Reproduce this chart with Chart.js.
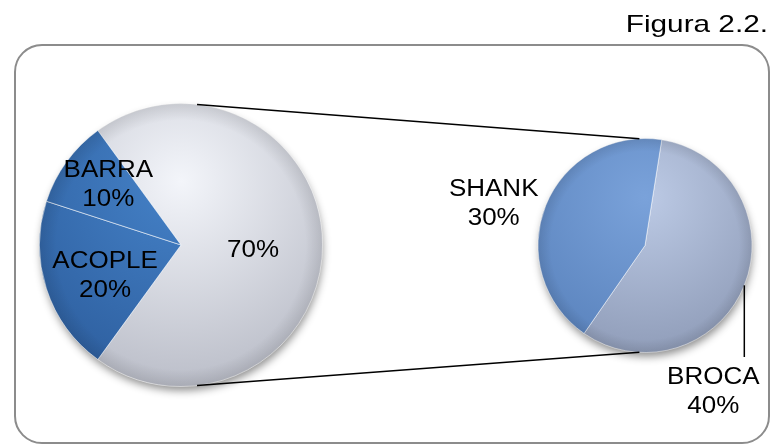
<!DOCTYPE html>
<html>
<head>
<meta charset="utf-8">
<script src="https://cdn.jsdelivr.net/npm/chart.js@4.4.1/dist/chart.umd.min.js"></script>
<style>
  body { margin: 0; background: #fff; }
  #wrap { position: relative; width: 771px; height: 445px; overflow: hidden; }
  #wrap canvas { position: absolute; left: 0; top: 0; }
  #frame {
    position: absolute; left: 14px; top: 44px; width: 756px; height: 400px;
    box-sizing: border-box; border: 2px solid #8c8c8c; border-radius: 28px;
  }
</style>
</head>
<body>
<div id="wrap">
  <div id="frame"></div>
  <canvas id="mainPie" width="771" height="445"></canvas>
  <canvas id="subPie" width="771" height="445"></canvas>
</div>
<script>
// main pie: the unnamed slice is split out into the small pie
const mainLabels = ['', 'ACOPLE', 'BARRA'];
const mainValues = [70, 20, 10];
// split of the 70% slice
const subLabels = ['BROCA', 'SHANK'];
const subValues = [40, 30];

const FONT = '23px "Liberation Sans", Arial, sans-serif';
const STRETCH = 1.13;
const LINE_H = 29;

// light / dark end of each slice's shading
const mainShades = [['#f3f5fa', '#b9bcc7'], ['#4582c8', '#2d5e9e'], ['#4582c8', '#2d5e9e']];
const subShades = [['#bccae5', '#8f9cb8'], ['#7aa2da', '#5a83bd']];

function pieGeom(chart) {
  const arc = chart.getDatasetMeta(0).data[0];
  return { x: arc.x, y: arc.y, r: arc.outerRadius };
}

function shade(pairs) {
  return (c) => {
    const p = pairs[c.dataIndex];
    const a = c.chart.chartArea;
    if (!a) return p[0];
    const cx = (a.left + a.right) / 2, cy = (a.top + a.bottom) / 2;
    const r = Math.min(a.width, a.height) / 2;
    const g = c.chart.ctx.createRadialGradient(cx, cy - r * 0.45, 0, cx, cy - r * 0.45, r * 1.5);
    g.addColorStop(0, p[0]);
    g.addColorStop(1, p[1]);
    return g;
  };
}

function drawBlock(ctx, lines, x, y) {
  const fs = 23;
  lines.forEach((t, i) => {
    const cy = y + (i - (lines.length - 1) / 2) * LINE_H;
    ctx.save();
    ctx.translate(x, cy + fs * 0.358);
    ctx.scale(STRETCH, 1);
    ctx.fillText(t, 0, 0);
    ctx.restore();
  });
}

// soft drop shadow under the disc and a darker rim on top of the slices
const bevel = {
  id: 'bevel',
  beforeDatasetsDraw(chart) {
    const { x, y, r } = pieGeom(chart);
    const ctx = chart.ctx;
    ctx.save();
    ctx.shadowColor = 'rgba(0,0,0,0.45)';
    ctx.shadowBlur = 9;
    ctx.shadowOffsetY = 5;
    ctx.shadowOffsetX = 1;
    ctx.fillStyle = '#c8cad2';
    ctx.beginPath();
    ctx.arc(x, y, r - 1, 0, Math.PI * 2);
    ctx.fill();
    ctx.restore();
  },
  afterDatasetsDraw(chart) {
    const { x, y, r } = pieGeom(chart);
    const ctx = chart.ctx;
    const g = ctx.createRadialGradient(x, y, r * 0.88, x, y, r);
    g.addColorStop(0, 'rgba(0,0,0,0)');
    g.addColorStop(1, 'rgba(0,0,0,0.1)');
    ctx.save();
    ctx.fillStyle = g;
    ctx.beginPath();
    ctx.arc(x, y, r, 0, Math.PI * 2);
    ctx.fill();
    ctx.restore();
  }
};

// name + percentage for every slice, optionally with a leader line
const sliceText = {
  id: 'sliceText',
  afterDraw(chart, args, opts) {
    const ctx = chart.ctx;
    const meta = chart.getDatasetMeta(0);
    const values = chart.data.datasets[0].data;
    const names = chart.data.labels;
    ctx.save();
    ctx.font = FONT;
    ctx.fillStyle = '#000';
    ctx.textAlign = 'center';
    ctx.textBaseline = 'alphabetic';
    meta.data.forEach((arc, i) => {
      const p = opts.place[i];
      const mid = (arc.startAngle + arc.endAngle) / 2 + p.shift * Math.PI / 180;
      const lines = names[i] ? [names[i], values[i] + '%'] : [values[i] + '%'];
      let x, y;
      if (p.leader) {
        const ex = arc.x + Math.cos(mid) * arc.outerRadius;
        const ey = arc.y + Math.sin(mid) * arc.outerRadius;
        const ly = ey + p.leader * arc.outerRadius;
        ctx.save();
        ctx.strokeStyle = '#000';
        ctx.lineWidth = 1.5;
        ctx.beginPath();
        ctx.moveTo(ex, ey);
        ctx.lineTo(ex, ly);
        ctx.stroke();
        ctx.restore();
        x = ex + p.dx;
        y = ly + p.dy;
      } else {
        x = arc.x + Math.cos(mid) * p.dist * arc.outerRadius;
        y = arc.y + Math.sin(mid) * p.dist * arc.outerRadius;
      }
      drawBlock(ctx, lines, x, y);
    });
    if (opts.caption) {
      ctx.save();
      ctx.font = '24px "Liberation Sans", Arial, sans-serif';
      ctx.textAlign = 'right';
      ctx.translate(768, 32);
      ctx.scale(1.24, 1);
      ctx.fillText(opts.caption, 0, 0);
      ctx.restore();
    }
    ctx.restore();
  }
};

// lines joining the big pie to the small one
const connectors = {
  id: 'connectors',
  afterDraw(chart, args, opts) {
    const a = pieGeom(opts.from());
    const b = pieGeom(chart);
    const pt = (g, deg) => {
      const t = (deg - 90) * Math.PI / 180;
      return [g.x + Math.cos(t) * g.r, g.y + Math.sin(t) * g.r];
    };
    const ctx = chart.ctx;
    ctx.save();
    ctx.strokeStyle = '#000';
    ctx.lineWidth = 1.5;
    [[6.5, -3], [173.5, 183]].forEach(([da, db]) => {
      const p = pt(a, da), q = pt(b, db);
      ctx.beginPath();
      ctx.moveTo(p[0], p[1]);
      ctx.lineTo(q[0], q[1]);
      ctx.stroke();
    });
    ctx.restore();
  }
};

const mainChart = new Chart(document.getElementById('mainPie'), {
  type: 'pie',
  data: {
    labels: mainLabels,
    datasets: [{
      data: mainValues,
      backgroundColor: shade(mainShades),
      borderColor: 'rgba(255,255,255,0.55)',
      borderWidth: 1
    }]
  },
  options: {
    responsive: false,
    animation: false,
    rotation: -36,
    layout: { padding: { left: 39, top: 103, right: 448, bottom: 58 } },
    plugins: {
      legend: { display: false },
      tooltip: { enabled: false },
      sliceText: {
        place: [{ dist: 0.51, shift: 3 }, { dist: 0.575, shift: -3 }, { dist: 0.675, shift: 4.5 }],
        caption: 'Figura 2.2.'
      }
    }
  },
  plugins: [bevel, sliceText]
});

new Chart(document.getElementById('subPie'), {
  type: 'pie',
  data: {
    labels: subLabels,
    datasets: [{
      data: subValues,
      backgroundColor: shade(subShades),
      borderColor: 'rgba(255,255,255,0.5)',
      borderWidth: 1
    }]
  },
  options: {
    responsive: false,
    animation: false,
    rotation: 9,
    layout: { padding: { left: 537, top: 138, right: 18, bottom: 92 } },
    plugins: {
      legend: { display: false },
      tooltip: { enabled: false },
      sliceText: {
        place: [{ leader: 0.67, shift: 0, dx: -31, dy: 33 }, { dist: 1.47, shift: -6 }]
      },
      connectors: { from: () => mainChart }
    }
  },
  plugins: [bevel, sliceText, connectors]
});
</script>
</body>
</html>
